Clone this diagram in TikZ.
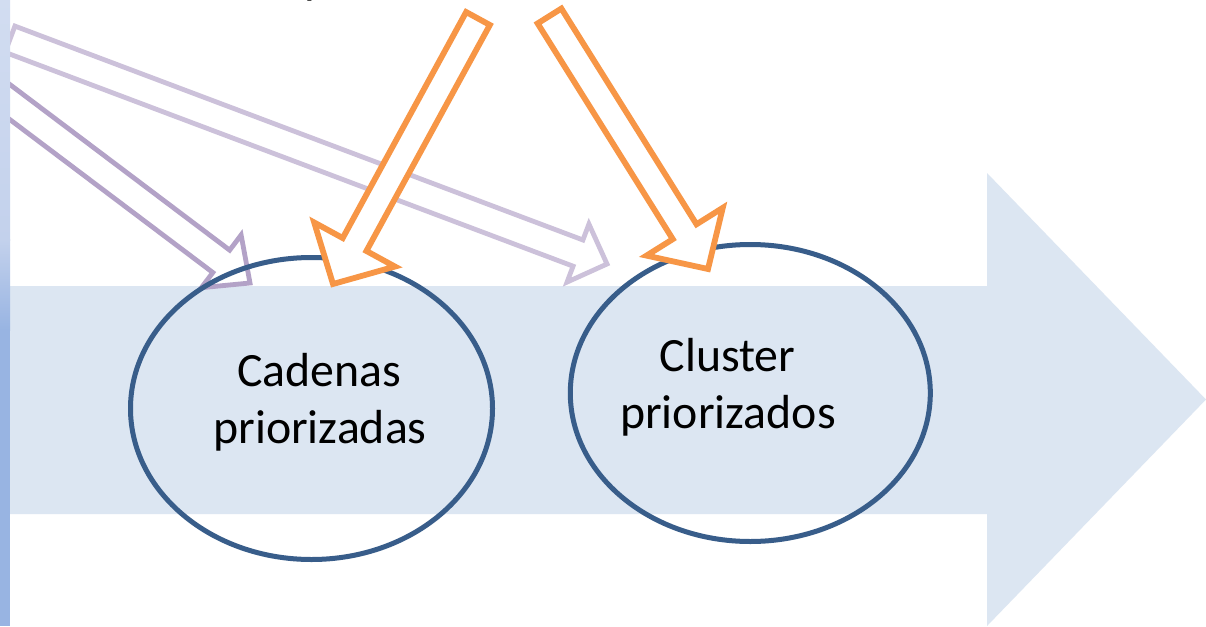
\documentclass[tikz,border=0pt]{standalone}
\usepackage{fontspec}
\setmainfont{Carlito}
\usetikzlibrary{calc,shapes.geometric}
\definecolor{bandcol}{HTML}{DCE6F2}
\definecolor{ellline}{HTML}{385D8A}
\definecolor{orng}{HTML}{F79646}
\definecolor{lavA}{HTML}{B3A2C7}
\definecolor{lavB}{HTML}{CCC1DA}
\definecolor{stripTop}{HTML}{D2DDF1}
\definecolor{stripMid}{HTML}{C3D1EC}
\definecolor{stripBot}{HTML}{98B4E2}
% #1 style, #2 tail, #3 tip, #4 half shaft width, #5 half head width, #6 head length
\newcommand\blockarrow[6]{%
 \coordinate (#3-b) at ($(#3)!#6!(#2)$);
 \coordinate (#3-hl) at ($(#3-b)!#5!90:(#3)$);
 \coordinate (#3-hr) at ($(#3-b)!#5!-90:(#3)$);
 \coordinate (#3-sl) at ($(#3-b)!#4!90:(#3)$);
 \coordinate (#3-sr) at ($(#3-b)!#4!-90:(#3)$);
 \coordinate (#3-tl) at ($(#2)!#4!90:(#3)$);
 \coordinate (#3-tr) at ($(#2)!#4!-90:(#3)$);
 \draw[#1] (#3) -- (#3-hl) -- (#3-sl) -- (#3-tl) -- (#3-tr) -- (#3-sr) -- (#3-hr) -- cycle;
}
\tikzset{
 ell/.style={ellipse, draw=ellline, line width=5pt, inner sep=0pt},
 lbl/.style={inner sep=0pt, anchor=base, font=\fontsize{47.8}{58}\selectfont},
 lavshort/.style={draw=lavA, line width=4.8pt, fill=white, line join=miter},
 lavlong/.style={draw=lavB, line width=4.8pt, fill=white, line join=miter},
 orarrow/.style={draw=orng, line width=5.8pt, fill=white, line join=miter},
}
\begin{document}
\begin{tikzpicture}[x=1pt,y=-1pt]
\useasboundingbox (0,0) rectangle (1206,626);
\clip (0,0) rectangle (1206,626);
\fill[white] (0,0) rectangle (1206,626);
% big process arrow
\fill[bandcol] (0,286) -- (987,286) -- (987,173) -- (1206,399.5) -- (987,626) -- (987,514) -- (0,514) -- cycle;
% lavender arrows
\coordinate (l1tail) at (-100,19.2);
\coordinate (l1tip) at (250,283);
\blockarrow{lavshort}{l1tail}{l1tip}{14pt}{33pt}{36pt}
\coordinate (l2tail) at (10,39.2);
\coordinate (l2tip) at (607,264);
\blockarrow{lavlong}{l2tail}{l2tip}{14pt}{31pt}{31pt}
% ellipses
\node[ell, minimum width=362pt, minimum height=302pt] (e1) at (311.5,408.5) {};
\node[ell, minimum width=360pt, minimum height=297pt] (e2) at (750.3,393) {};
% orange arrows
\coordinate (o1tail) at (478,18.5);
\coordinate (o1tip) at (333,284);
\blockarrow{orarrow}{o1tail}{o1tip}{13.5pt}{46pt}{45pt}
\coordinate (o2tail) at (549.5,16);
\coordinate (o2tip) at (708,269);
\blockarrow{orarrow}{o2tail}{o2tip}{14pt}{45pt}{44pt}
% labels
\node[lbl] (t1a) at (319.5,386.7) {Cadenas};
\node[lbl] (t1b) at (320,443.3) {priorizadas};
\node[lbl] (t2a) at (727.5,371.7) {Cluster};
\node[lbl] (t2b) at (728,428) {priorizados};
\node[lbl, anchor=base west] (ptop) at (304,-6.8) {p};
% left strip
\shade[top color=stripTop, bottom color=stripMid] (0,0) rectangle (10,240);
\shade[top color=stripMid, bottom color=stripBot] (0,239.5) rectangle (10,330);
\fill[stripBot] (0,329.5) rectangle (10,626);
\end{tikzpicture}
\end{document}
